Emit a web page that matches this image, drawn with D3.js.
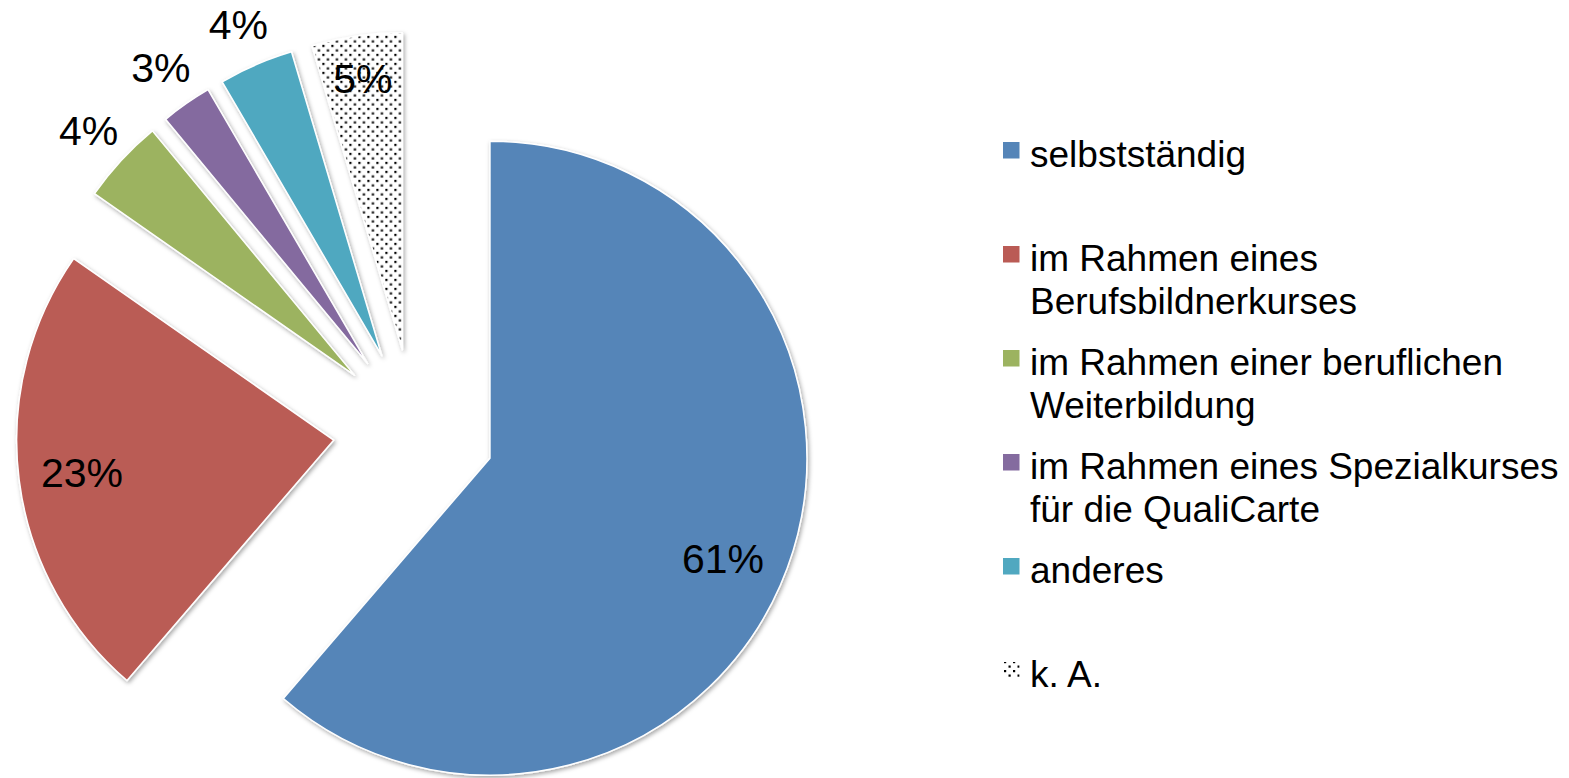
<!DOCTYPE html>
<html lang="de">
<head>
  <meta charset="UTF-8">
  <title>Pie chart</title>
  <style>
    body { margin: 0; background: #fff; }
    svg { display: block; font-family: "Liberation Sans", Arial, sans-serif; }
  </style>
</head>
<body>
  <svg id="chart" width="1569" height="778"></svg>

  <script src="https://d3js.org/d3.v7.min.js"></script>
  <script>
    // data (share in %)
    const categories = [
      "selbstständig",
      "im Rahmen eines Berufsbildnerkurses",
      "im Rahmen einer beruflichen Weiterbildung",
      "im Rahmen eines Spezialkurses für die QualiCarte",
      "anderes",
      "k. A."
    ];
    const values = [61.3, 23.4, 4.3, 2.6, 3.8, 4.6];
    // legend lines as wrapped in the original
    const legendLines = [
      ["selbstständig"],
      ["im Rahmen eines", "Berufsbildnerkurses"],
      ["im Rahmen einer beruflichen", "Weiterbildung"],
      ["im Rahmen eines Spezialkurses", "für die QualiCarte"],
      ["anderes"],
      ["k. A."]
    ];
    const colors = ["#5585b8", "#ba5b55", "#9cb360", "#846b9f", "#50a8c0", "url(#dots)"];

    const svg = d3.select("#chart");
    const cx = 414, cy = 430;
    const radius = 317;
    const explode = 81;

    const defs = svg.append("defs");

    const pattern = defs.append("pattern")
      .attr("id", "dots")
      .attr("patternUnits", "userSpaceOnUse")
      .attr("width", 9)
      .attr("height", 9);
    pattern.append("rect").attr("width", 9).attr("height", 9).attr("fill", "#fff");
    pattern.append("rect").attr("x", 1).attr("y", 1).attr("width", 2.2).attr("height", 2.2).attr("fill", "#000");
    pattern.append("rect").attr("x", 5.5).attr("y", 5.5).attr("width", 2.2).attr("height", 2.2).attr("fill", "#000");

    const shadow = defs.append("filter")
      .attr("id", "shadow")
      .attr("x", "-20%").attr("y", "-20%")
      .attr("width", "140%").attr("height", "140%");
    shadow.append("feDropShadow")
      .attr("dx", 1.5).attr("dy", 2)
      .attr("stdDeviation", 2)
      .attr("flood-color", "#000")
      .attr("flood-opacity", 0.35);

    const data = categories.map((c, i) => ({ name: c, value: values[i] }));

    const pie = d3.pie()
      .sort(null)
      .value(d => d.value)
      .startAngle(0)
      .endAngle(2 * Math.PI);

    const arc = d3.arc()
      .innerRadius(0)
      .outerRadius(radius);

    const arcs = pie(data);

    const offset = d => {
      const a = (d.startAngle + d.endAngle) / 2;
      return [explode * Math.sin(a), -explode * Math.cos(a)];
    };

    const g = svg.append("g")
      .attr("transform", `translate(${cx}, ${cy})`);

    const slices = g.selectAll("g.slice")
      .data(arcs)
      .enter()
      .append("g")
      .attr("class", "slice")
      .attr("transform", d => `translate(${offset(d)[0]}, ${offset(d)[1]})`);

    slices.append("path")
      .attr("d", arc)
      .attr("fill", (d, i) => colors[i])
      .attr("stroke", "#fff")
      .attr("stroke-width", 1.5)
      .attr("stroke-linejoin", "round")
      .attr("filter", "url(#shadow)");

    // data labels: big slices inside, small ones outside
    slices.append("text")
      .attr("transform", d => {
        const v = d.data.value;
        // the big slice's label sits a little past its middle
        const a = (d.startAngle + d.endAngle) / 2 + (v > 50 ? 0.05 : 0);
        const f = v > 20 ? 0.8 : (v > 4.5 ? 0.865 : 1.14);
        return `translate(${radius * f * Math.sin(a)}, ${-radius * f * Math.cos(a)})`;
      })
      .attr("text-anchor", "middle")
      .attr("dy", "0.36em")
      .style("font-size", "41px")
      .style("fill", "#000")
      .text(d => Math.round(d.data.value) + "%");

    // legend
    const legend = svg.append("g")
      .attr("transform", "translate(1003, 167)");

    const items = legend.selectAll("g.item")
      .data(legendLines)
      .enter()
      .append("g")
      .attr("class", "item")
      .attr("transform", (d, i) => `translate(0, ${i * 104})`);

    items.append("rect")
      .attr("x", 0)
      .attr("y", -25)
      .attr("width", 16.5)
      .attr("height", 16.5)
      .attr("fill", (d, i) => colors[i]);

    items.append("text")
      .style("font-size", "37px")
      .style("fill", "#000")
      .selectAll("tspan")
      .data(d => d)
      .enter()
      .append("tspan")
      .attr("x", 27)
      .attr("y", (d, i) => i * 43)
      .text(d => d);
  </script>
</body>
</html>
